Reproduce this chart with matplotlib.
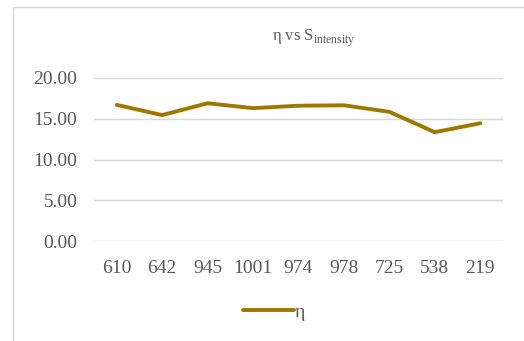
import numpy as np
import matplotlib
matplotlib.use('Agg')
import matplotlib.pyplot as plt
from matplotlib.patches import Rectangle

plt.rcParams['font.family'] = ['Liberation Serif', 'DejaVu Serif']
plt.rcParams['mathtext.fontset'] = 'custom'
plt.rcParams['mathtext.rm'] = 'Liberation Serif'

# 强度类别与效率值
categories = ['610', '642', '945', '1001', '974', '978', '725', '538', '219']
eta = [16.7, 15.45, 16.9, 16.3, 16.6, 16.65, 15.85, 13.35, 14.45]

W, H = 524, 341
fig = plt.figure(figsize=(W / 100, H / 100), dpi=100)

# 图表外框（只露出左边和上边）
fig.patches.append(Rectangle((13 / W, -0.1), 1.2, 1 - 7 / H + 0.1,
                             transform=fig.transFigure, fill=False,
                             edgecolor='#d9d9d9', linewidth=1))

ax = fig.add_axes([94 / W, 1 - 241 / H, (503 - 94) / W, (241 - 78) / H])
x = np.arange(len(categories))
line_color = '#9e7800'
ax.plot(x, eta, color=line_color, linewidth=2.8, solid_capstyle='round',
        label='η', zorder=3)

ax.set_xlim(-0.5, len(categories) - 0.5)
ax.set_ylim(0, 20)
ax.set_yticks([0, 5, 10, 15, 20])
ax.set_yticklabels(['%.2f' % v for v in [0, 5, 10, 15, 20]])
ax.set_xticks(x)
ax.set_xticklabels(categories)
ax.grid(axis='y', color='#d9d9d9', linewidth=1)
ax.set_axisbelow(True)
for s in ax.spines.values():
    s.set_visible(False)
ax.tick_params(length=0, labelsize=14, colors='#595959')
ax.tick_params(axis='y', pad=12)
ax.tick_params(axis='x', pad=14)

fig.text(314 / W, 1 - 38 / H, r'η vs S$_{\mathregular{intensity}}$',
         ha='center', va='center', fontsize=12, color='#595959')

ax.legend(loc='center', bbox_to_anchor=((274 - 94) / (503 - 94), (241 - 312) / (241 - 78)),
          frameon=False, fontsize=14, handlelength=2.6, handletextpad=0.05,
          labelcolor='#595959')

fig.savefig('out.png', dpi=100)
